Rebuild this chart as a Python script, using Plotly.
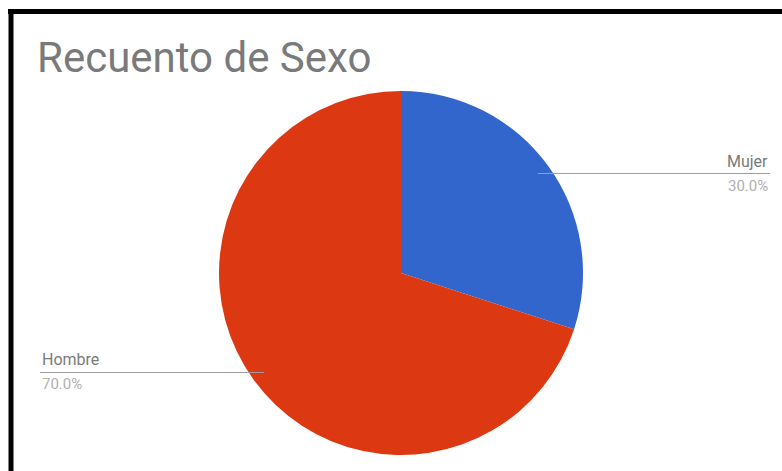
import math
import plotly.graph_objects as go

# Datos
categorias = ["Mujer", "Hombre"]
valores = [30.0, 70.0]
colores = ["#3366cc", "#dc3912"]
titulo = "Recuento de Sexo"

W, H = 782, 471

# Geometría del gráfico circular (en píxeles)
cx, cy, radio = 401, 273, 182

fig = go.Figure(
    go.Pie(
        labels=categorias,
        values=valores,
        marker=dict(colors=colores, line=dict(width=0)),
        sort=False,
        direction="clockwise",
        rotation=0,
        textinfo="none",
        hoverinfo="label+percent",
        showlegend=False,
        domain=dict(
            x=[(cx - radio) / W, (cx + radio) / W],
            y=[(H - (cy + radio)) / H, (H - (cy - radio)) / H],
        ),
    )
)


def px(x):
    return x / W


def py(y):
    return (H - y) / H


shapes = []
annotations = []

total = sum(valores)
acumulado = 0.0
for nombre, v in zip(categorias, valores):
    frac = v / total
    medio = (acumulado + frac / 2) * 2 * math.pi  # ángulo desde las 12 en sentido horario
    acumulado += frac
    # punto de inicio de la línea guía, dentro del sector
    x0 = cx + 0.93 * radio * math.sin(medio)
    y0 = cy - 0.93 * radio * math.cos(medio)
    derecha = math.sin(medio) > 0
    x1 = 770 if derecha else 40
    shapes.append(dict(type="line", xref="paper", yref="paper",
                       x0=px(x0), y0=py(y0), x1=px(x1), y1=py(y0),
                       line=dict(color="#9e9e9e", width=1)))
    anchor = "right" if derecha else "left"
    annotations.append(dict(xref="paper", yref="paper", x=px(x1), y=py(y0 - 1),
                            text=nombre, showarrow=False, xanchor=anchor, yanchor="bottom",
                            font=dict(family="Roboto", size=16, color="#7a7a7a")))
    annotations.append(dict(xref="paper", yref="paper", x=px(x1), y=py(y0 + 1),
                            text=f"{v / total * 100:.1f}%", showarrow=False,
                            xanchor=anchor, yanchor="top",
                            font=dict(family="Roboto", size=15, color="#b0b0b0")))

# Título
annotations.append(dict(xref="paper", yref="paper", x=px(35), y=py(58),
                        text=titulo, showarrow=False, xanchor="left", yanchor="middle",
                        font=dict(family="Roboto", size=42, color="#7a7a7a")))

# Marco negro
shapes.append(dict(type="line", xref="paper", yref="paper",
                   x0=px(8), y0=py(11.5), x1=1.0, y1=py(11.5),
                   line=dict(color="black", width=5)))
shapes.append(dict(type="line", xref="paper", yref="paper",
                   x0=px(11), y0=py(9), x1=px(11), y1=0.0,
                   line=dict(color="black", width=5)))

fig.update_layout(
    width=W, height=H,
    margin=dict(l=0, r=0, t=0, b=0),
    paper_bgcolor="white",
    plot_bgcolor="white",
    shapes=shapes,
    annotations=annotations,
)

fig.write_html("out.html")
